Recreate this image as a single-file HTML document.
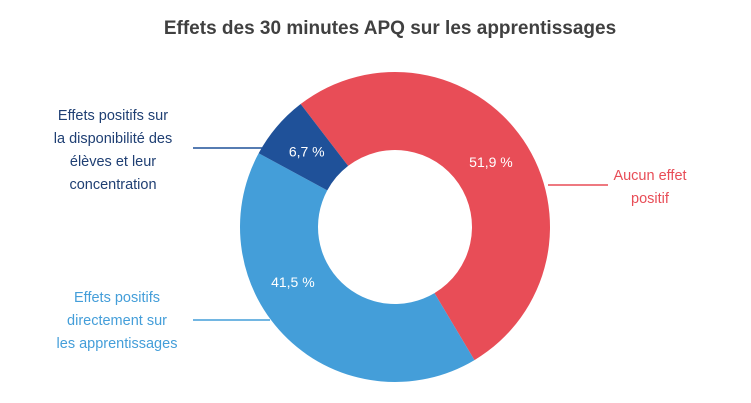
<!DOCTYPE html>
<html><head><meta charset="utf-8"><style>
body{margin:0;background:#fff;}
svg{display:block;font-family:"Liberation Sans",sans-serif;}
</style></head><body>
<svg id="chart" width="751" height="403" viewBox="0 0 751 403">
<text x="390" y="34" text-anchor="middle" font-size="19" font-weight="bold" fill="#404040">Effets des 30 minutes APQ sur les apprentissages</text>
<g id="slices"></g>
<g id="labels"></g>
<line x1="193" y1="148" x2="262" y2="148" stroke="#1f5199" stroke-width="1.5"/>
<text font-size="14.5" fill="#1f3f73" text-anchor="middle">
<tspan x="113" y="120">Effets positifs sur</tspan><tspan x="113" y="143">la disponibilité des</tspan><tspan x="113" y="166">élèves et leur</tspan><tspan x="113" y="189">concentration</tspan></text>
<line x1="193" y1="320" x2="270" y2="320" stroke="#449ed9" stroke-width="1.5"/>
<text font-size="14.5" fill="#449ed9" text-anchor="middle">
<tspan x="117" y="302">Effets positifs</tspan><tspan x="117" y="325">directement sur</tspan><tspan x="117" y="348">les apprentissages</tspan></text>
<line x1="548" y1="185" x2="608" y2="185" stroke="#e84d57" stroke-width="1.5"/>
<text font-size="14.5" fill="#e84d57" text-anchor="middle">
<tspan x="650" y="180">Aucun effet</tspan><tspan x="650" y="203">positif</tspan></text>
</svg>
<script>
const categories=["Aucun effet positif","Effets positifs directement sur les apprentissages","Effets positifs sur la disponibilité"];
const values=[51.9,41.5,6.7];
const valueLabels=["51,9 %","41,5 %","6,7 %"];
const colors=["#e84d57","#449ed9","#1f5199"];
const cx=395,cy=227,R=155,r=77,start=-37.5;
const g=document.getElementById('slices'),lg=document.getElementById('labels');
const total=values.reduce((a,b)=>a+b,0);
function pt(a,rad){const t=(a-90)*Math.PI/180;return[cx+rad*Math.cos(t),cy+rad*Math.sin(t)];}
let a=start;
values.forEach((v,i)=>{
 const span=v/total*360,a2=a+span,large=span>180?1:0;
 const p1=pt(a,R),p2=pt(a2,R),p3=pt(a2,r),p4=pt(a,r);
 const p=document.createElementNS('http://www.w3.org/2000/svg','path');
 p.setAttribute('d',`M${p1}A${R},${R} 0 ${large} 1 ${p2}L${p3}A${r},${r} 0 ${large} 0 ${p4}Z`);
 p.setAttribute('fill',colors[i]);
 
 
 g.appendChild(p);
 const m=a+span/2;let lp=pt(m,(R+r)/2);
 if(i===1){lp=pt(a+span*0.62,(R+r)/2);}
 const t=document.createElementNS('http://www.w3.org/2000/svg','text');
 t.setAttribute('x',lp[0]);t.setAttribute('y',lp[1]+5);
 t.setAttribute('text-anchor','middle');t.setAttribute('fill','#fff');t.setAttribute('font-size','14');
 t.textContent=valueLabels[i];
 
 
 lg.appendChild(t);
 a=a2;
});
</script>
</body></html>
